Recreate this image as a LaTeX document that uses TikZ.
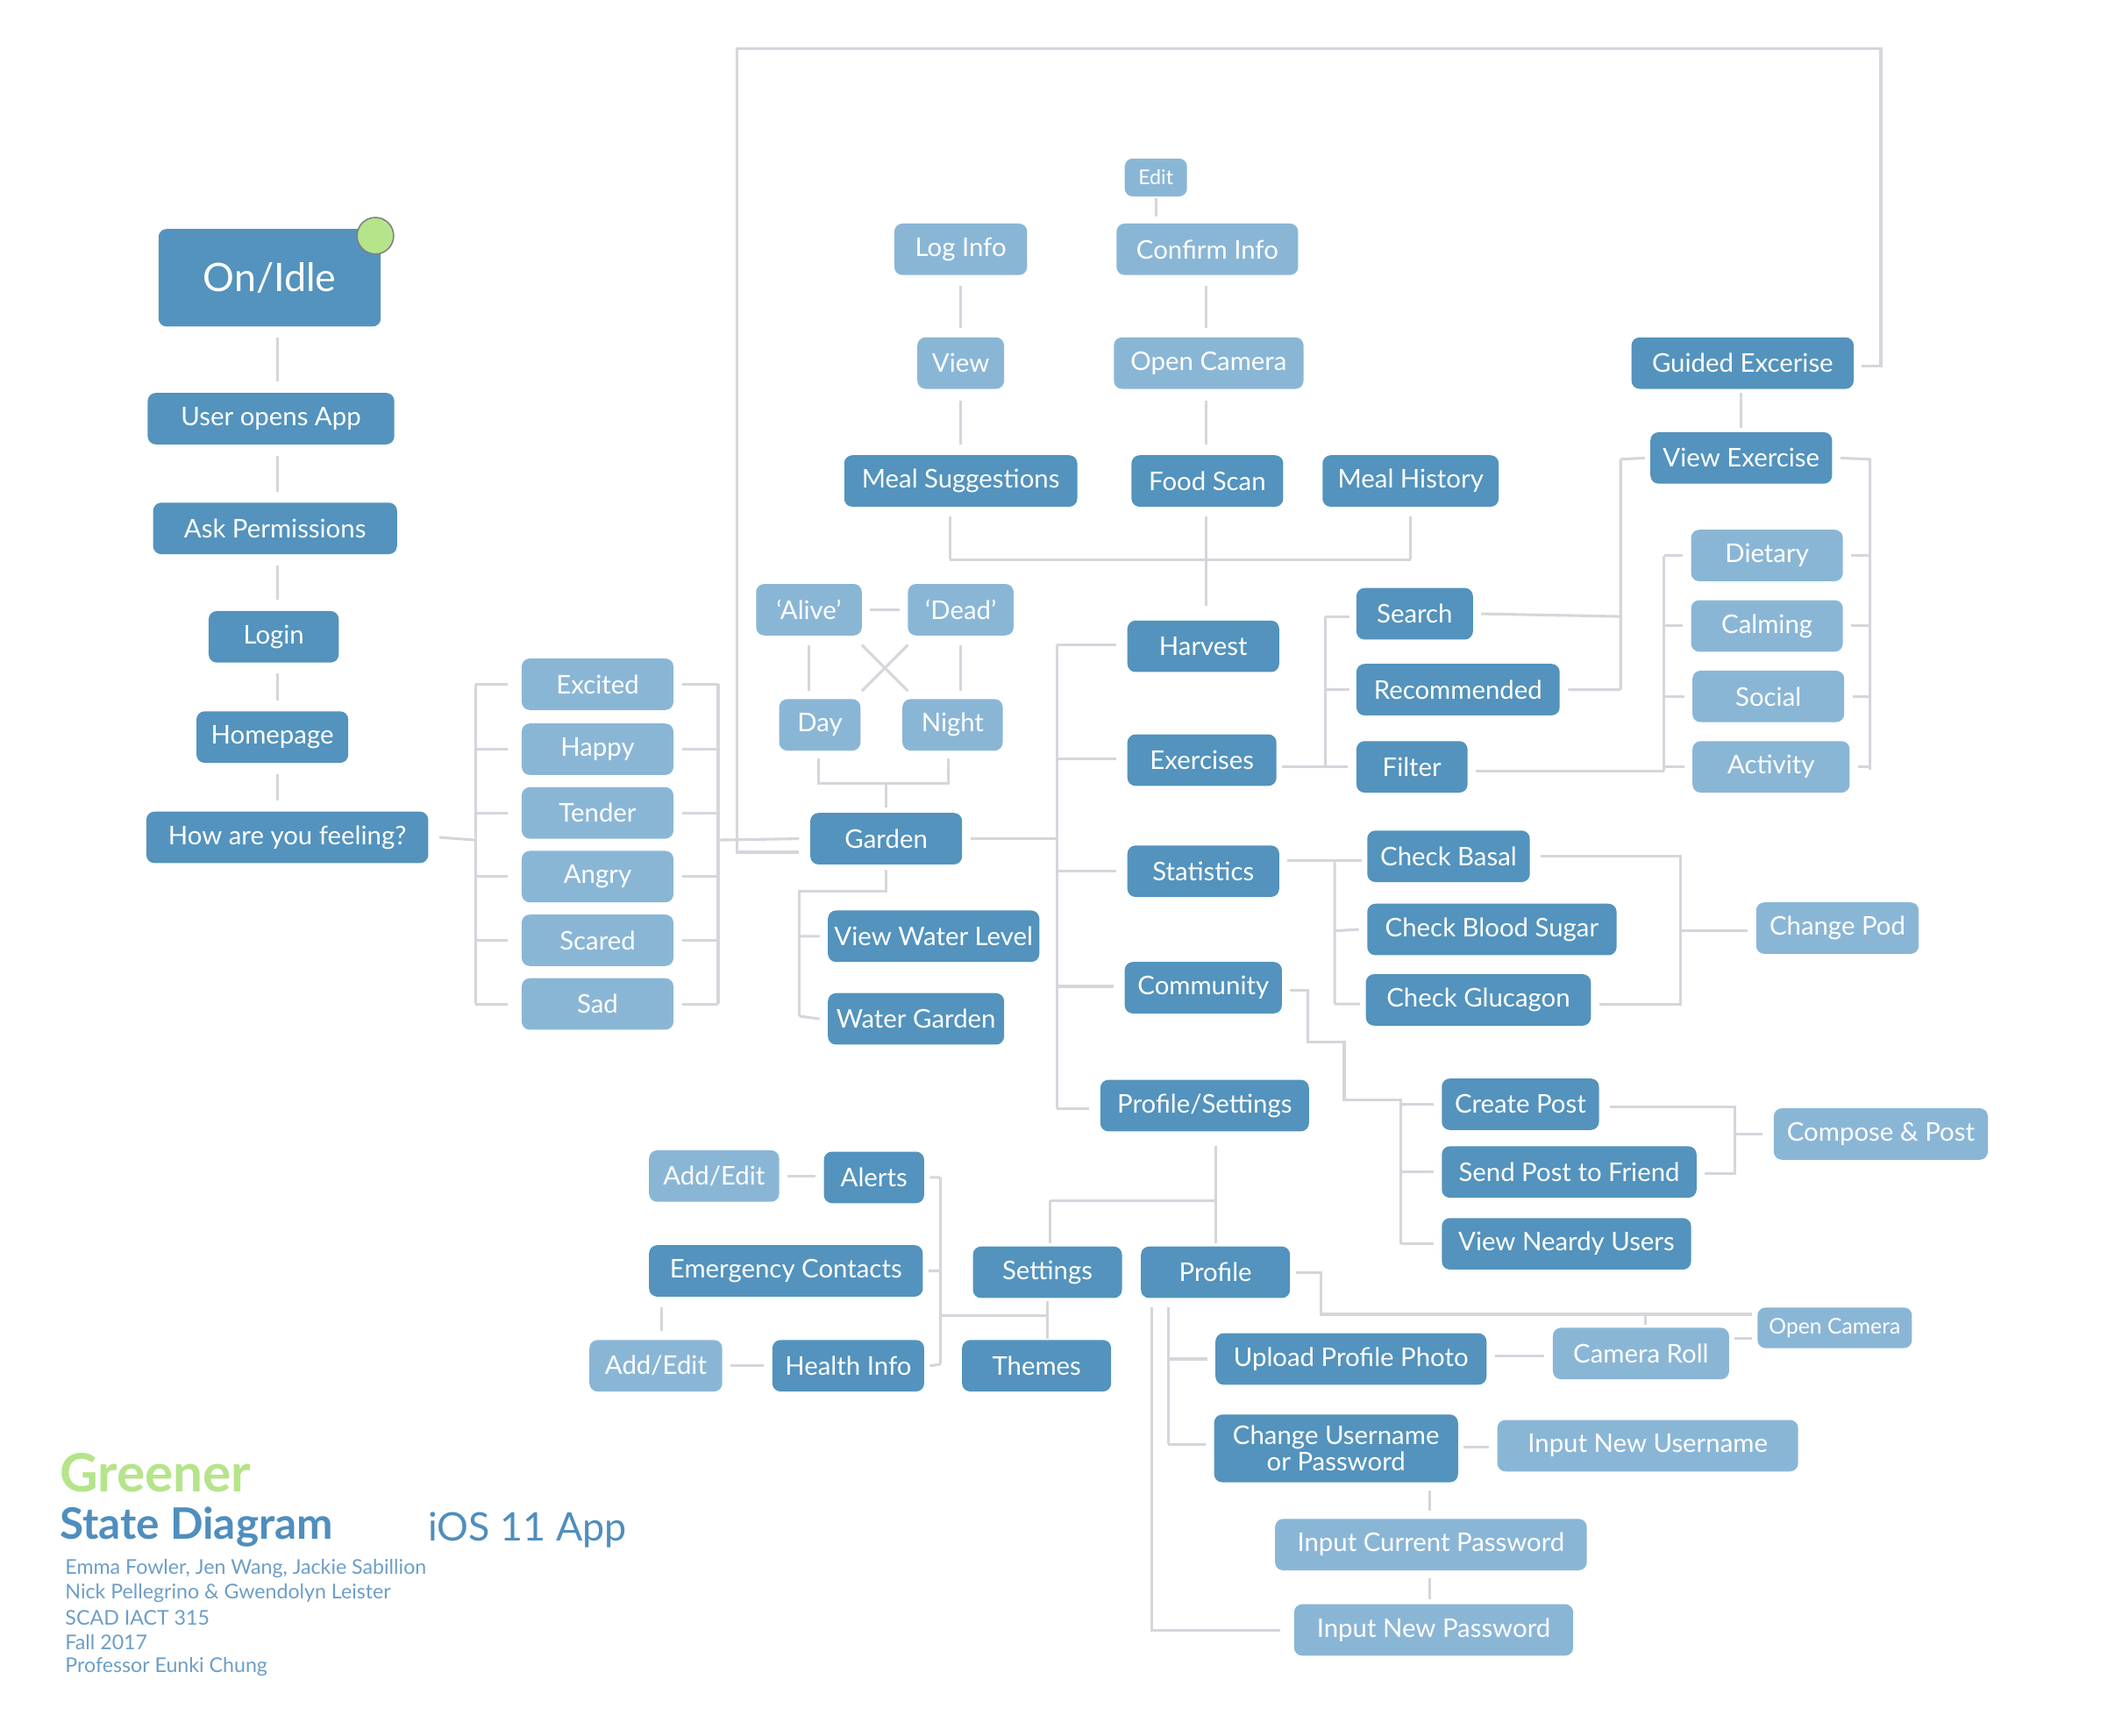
\documentclass[tikz,border=0pt]{standalone}
\usepackage{fontspec}
\setmainfont{Lato}
\definecolor{dk}{HTML}{5393BD}
\definecolor{lt}{HTML}{8AB6D6}
\definecolor{ln}{HTML}{D8D4DC}
\definecolor{grn}{HTML}{B5E48A}
\definecolor{ttl}{HTML}{4F8EBD}
\definecolor{crd}{HTML}{6C9EC8}
\begin{document}
\begin{tikzpicture}[x=1pt,y=-1pt,
 box/.style={rounded corners=6pt,text=white,minimum height=38pt,inner sep=0pt,font=\fontsize{19}{21}\selectfont},
 dkb/.style={box,fill=dk},
 ltb/.style={box,fill=lt},
 ln/.style={draw=ln,line width=2pt}]
\fill[white] (0,0) rectangle (1566,1281);
\useasboundingbox (0,0) rectangle (1566,1281);
% left column
\node[dkb,minimum width=164pt,minimum height=72pt,font=\fontsize{29}{30}\selectfont] (on) at (199,205) {On/Idle};
\node[circle,fill=grn,draw=gray,line width=1pt,minimum size=27pt,inner sep=0pt] (dot) at (277,174) {};
\node[dkb,minimum width=182pt] (uo) at (200,309) {User opens App};
\node[dkb,minimum width=180pt] (ap) at (203,390) {Ask Permissions};
\node[dkb,minimum width=96pt] (lg) at (202,470) {Login};
\node[dkb,minimum width=112pt] (hp) at (201,544) {Homepage};
\node[dkb,minimum width=208pt] (hf) at (212,618) {How are you feeling?};
\foreach \a/\b in {on/uo,uo/ap,ap/lg,lg/hp,hp/hf}
 \draw[ln] ([yshift=-8pt]\a.south -| 205,0) -- ([yshift=8pt]\b.north -| 205,0);
% feelings
\foreach \n/\t/\y in {f1/Excited/505,f2/Happy/553,f3/Tender/600,f4/Angry/647,f5/Scared/694,f6/Sad/741}{
 \node[ltb,minimum width=112pt] (\n) at (441,\y) {\t};
 \draw[ln] (351,\y) -- ([xshift=-10pt]\n.west);
 \draw[ln] ([xshift=6pt]\n.east) -- (530,\y);}
\draw[ln] (351,505) -- (351,741) (530,505) -- (530,741);
\draw[ln] ([xshift=8pt]hf.east) -- (351,620);
% garden
\node[dkb,minimum width=112pt] (gd) at (654,619) {Garden};
\draw[ln] (530,620) -- ([xshift=-8pt]gd.west);
\node[ltb,minimum width=60pt] (day) at (605,535) {Day};
\node[ltb,minimum width=74pt] (ngt) at (703,535) {Night};
\node[ltb,minimum width=78pt] (alv) at (597,450) {`Alive'};
\node[ltb,minimum width=78pt] (ded) at (709,450) {`Dead'};
\draw[ln] ([xshift=6pt]alv.east) -- ([xshift=-6pt]ded.west);
\draw[ln] (636,476) -- (670,510) (670,476) -- (636,510);
\draw[ln] (597,476) -- (597,510) (709,476) -- (709,510);
\draw[ln] (604,560) -- (604,578) -- (700,578) -- (700,560) (654,578) -- ([yshift=4pt]gd.north);
\draw[ln] ([xshift=-8pt,yshift=-10pt]gd.west) -| (544,36) -| (1388,270) -- (1374,270);
\node[dkb,minimum width=156pt] (vwl) at (689,691) {View Water Level};
\node[dkb,minimum width=130pt] (wg) at (676,752) {Water Garden};
\draw[ln] ([yshift=-4pt]gd.south) |- (590,658) -- (590,750);
\draw[ln] (590,691) -- ([xshift=-6pt]vwl.west) (590,750) -- ([xshift=-6pt]wg.west);
% main spine
\node[dkb,minimum width=112pt] (hv) at (888,477) {Harvest};
\node[dkb,minimum width=110pt] (ex) at (887,561) {Exercises};
\node[dkb,minimum width=112pt] (st) at (888,643) {Statistics};
\node[dkb,minimum width=116pt] (cm) at (888,729) {Community};
\node[dkb,minimum width=154pt] (ps) at (889,816) {Profile/Settings};
\draw[ln] ([xshift=6pt]gd.east) -- (780,619);
\draw[ln] (780,476) -- (780,818);
\foreach \n/\y in {hv/476,ex/560,st/643,cm/728,ps/818}
 \draw[ln] (780,\y) -- ([xshift=-8pt]\n.west |- 0,\y);
% harvest tree
\node[dkb,minimum width=172pt] (ms) at (709,355) {Meal Suggestions};
\node[dkb,minimum width=112pt] (fs) at (891,355) {Food Scan};
\node[dkb,minimum width=130pt] (mh) at (1041,355) {Meal History};
\node[ltb,minimum width=64pt] (vw) at (709,268) {View};
\node[ltb,minimum width=98pt] (li) at (709,184) {Log Info};
\node[ltb,minimum width=140pt] (oc) at (892,268) {Open Camera};
\node[ltb,minimum width=134pt] (ci) at (891,184) {Confirm Info};
\node[ltb,minimum width=46pt,minimum height=28pt,font=\fontsize{15}{16}\selectfont] (ed) at (853,131) {Edit};
\draw[ln] (890,447) -- (890,413) (701,413) -- (1041,413);
\draw[ln] (701,413) -- (701,381) (890,413) -- (890,381) (1041,413) -- (1041,381);
\draw[ln] (709,296) -- (709,328) (709,211) -- (709,242);
\draw[ln] (890,296) -- (890,328) (890,211) -- (890,242) (853,146) -- (853,160);
% exercises tree
\node[dkb,minimum width=86pt] (se) at (1044,453) {Search};
\node[dkb,minimum width=150pt] (rc) at (1076,509) {Recommended};
\node[dkb,minimum width=82pt] (fl) at (1042,566) {Filter};
\draw[ln] ([xshift=4pt]ex.east |- 0,566) -- ([xshift=-6pt]fl.west);
\draw[ln] (978,455) -- (978,566) (978,455) -- (996,455) (978,509) -- (996,509);
\node[dkb,minimum width=134pt] (ve) at (1285,338) {View Exercise};
\node[dkb,minimum width=164pt] (ge) at (1286,268) {Guided Excerise};
\draw[ln] (1285,290) -- (1285,316);
\draw[ln] ([xshift=6pt]se.east) -- (1196,455) ([xshift=6pt]rc.east) -- (1196,509) (1196,339) -- (1196,509) (1196,339) -- ([xshift=-4pt]ve.west);
\draw[ln] ([xshift=6pt]ve.east) -- (1380,339) -- (1380,568);
\foreach \n/\t/\x/\y/\w in {d1/Dietary/1304/410/112,d2/Calming/1304/462/112,d3/Social/1305/514/112,d4/Activity/1307/566/116}{
 \node[ltb,minimum width=\w pt] (\n) at (\x,\y) {\t};
 \draw[ln] (1228,\y) -- ([xshift=-6pt]\n.west);
 \draw[ln] ([xshift=6pt]\n.east) -- (1380,\y);}
\draw[ln] ([xshift=6pt]fl.east |- 0,569) -- (1228,569) (1228,410) -- (1228,569);
% statistics tree
\node[dkb,minimum width=120pt] (cb) at (1069,632) {Check Basal};
\node[dkb,minimum width=184pt] (cbs) at (1101,686) {Check Blood Sugar};
\node[dkb,minimum width=166pt] (cg) at (1091,738) {Check Glucagon};
\node[ltb,minimum width=120pt] (cp) at (1356,685) {Change Pod};
\draw[ln] ([xshift=6pt]st.east |- 0,635) -- ([xshift=-4pt]cb.west |- 0,635);
\draw[ln] (985,635) -- (985,741) (985,687) -- ([xshift=-6pt]cbs.west) (985,741) -- ([xshift=-4pt]cg.west |- 0,741);
\draw[ln] ([xshift=8pt]cb.east) -- (1240,632) -- (1240,741) -- ([xshift=6pt]cg.east |- 0,741);
\draw[ln] (1240,687) -- ([xshift=-6pt]cp.west |- 0,687);
% community tree
\node[dkb,minimum width=116pt] (cpo) at (1122,815) {Create Post};
\node[dkb,minimum width=188pt] (sp) at (1158,865) {Send Post to Friend};
\node[dkb,minimum width=184pt] (vn) at (1156,918) {View Neardy Users};
\node[ltb,minimum width=158pt] (cmp) at (1388,837) {Compose \& Post};
\draw[ln] ([xshift=6pt]cm.east |- 0,731) -- (965,731) -- (965,769) -- (992,769) -- (992,812) -- (1034,812) -- (1034,918);
\draw[ln] (1034,815) -- ([xshift=-6pt]cpo.west) (1034,865) -- ([xshift=-6pt]sp.west) (1034,918) -- ([xshift=-6pt]vn.west);
\draw[ln] ([xshift=8pt]cpo.east |- 0,817) -- (1280,817) -- (1280,866) -- ([xshift=6pt]sp.east |- 0,866);
\draw[ln] (1280,837) -- ([xshift=-8pt]cmp.west);
% profile/settings tree
\node[dkb,minimum width=110pt] (sg) at (773,939) {Settings};
\node[dkb,minimum width=110pt] (pf) at (897,939) {Profile};
\node[dkb,minimum width=110pt] (th) at (765,1008) {Themes};
\node[dkb,minimum width=74pt] (al) at (645,869) {Alerts};
\node[dkb,minimum width=202pt] (ec) at (580,938) {Emergency Contacts};
\node[dkb,minimum width=112pt] (hi) at (626,1008) {Health Info};
\node[ltb,minimum width=96pt] (ae1) at (527,868) {Add/Edit};
\node[ltb,minimum width=98pt] (ae2) at (484,1008) {Add/Edit};
\draw[ln] (897,846) -- ([yshift=2pt]pf.north) (775,886) -- (897,886) (775,886) -- ([yshift=2pt]sg.north -| 775,0);
\draw[ln] (773,960) -- (773,988) (694,971) -- (773,971);
\draw[ln] (694,869) -- (694,1007) ([xshift=4pt]al.east) -- (694,869) ([xshift=4pt]ec.east) -- (694,938) ([xshift=4pt]hi.east) -- (694,1007);
\draw[ln] ([xshift=6pt]ae1.east) -- ([xshift=-6pt]al.west |- 0,868) ([xshift=6pt]ae2.east) -- ([xshift=-6pt]hi.west);
\draw[ln] (488,965) -- (488,982);
% profile subtree
\node[ltb,minimum width=114pt,minimum height=30pt,font=\fontsize{16}{17}\selectfont] (oc2) at (1354,980) {Open Camera};
\node[ltb,minimum width=130pt] (cr) at (1211,999) {Camera Roll};
\node[dkb,minimum width=200pt] (up) at (997,1003) {Upload Profile Photo};
\node[dkb,minimum width=180pt,minimum height=50pt,align=center,font=\fontsize{19}{19}\selectfont] (cu) at (986,1069) {Change Username\\or Password};
\node[ltb,minimum width=222pt] (inu) at (1216,1067) {Input New Username};
\node[ltb,minimum width=230pt] (icp) at (1056,1140) {Input Current Password};
\node[ltb,minimum width=206pt] (inp) at (1058,1203) {Input New Password};
\draw[ln] ([xshift=4pt]pf.east) -- (975,939) -- (975,970) -- ([xshift=-4pt]oc2.west |- 0,970);
\draw[ln] (1214,970) -- (1214,978) ([xshift=4pt]cr.east |- 0,988) -- ([xshift=-4pt]oc2.west |- 0,988);
\draw[ln] ([xshift=6pt]up.east |- 0,1001) -- ([xshift=-6pt]cr.west |- 0,1001);
\draw[ln] (862,965) -- (862,1066) (862,1003) -- ([xshift=-6pt]up.west) (862,1066) -- ([xshift=-6pt]cu.west |- 0,1066);
\draw[ln] (850,965) -- (850,1203) -- ([xshift=-10pt]inp.west);
\draw[ln] ([xshift=4pt]cu.east |- 0,1068) -- ([xshift=-6pt]inu.west |- 0,1068);
\draw[ln] (1055,1100) -- (1055,1115) (1055,1165) -- (1055,1180);
% titles
\node[anchor=west,text=grn,font=\fontsize{39}{40}\selectfont\bfseries,inner sep=0pt] (t1) at (44,1087) {Greener};
\node[anchor=west,text=ttl,font=\fontsize{32}{33}\selectfont\bfseries,inner sep=0pt] (t2) at (44,1127) {State Diagram};
\node[anchor=west,text=ttl,font=\fontsize{29}{30}\selectfont,inner sep=0pt] (t3) at (316,1129) {iOS 11 App};
\foreach \t [count=\i] in {{Emma Fowler, Jen Wang, Jackie Sabillion},{Nick Pellegrino \& Gwendolyn Leister},{SCAD IACT 315},{Fall 2017},{Professor Eunki Chung}}
 \node[anchor=west,text=crd,font=\fontsize{15}{16}\selectfont,inner sep=0pt] at (48,1140+18*\i) {\t};
\end{tikzpicture}
\end{document}
